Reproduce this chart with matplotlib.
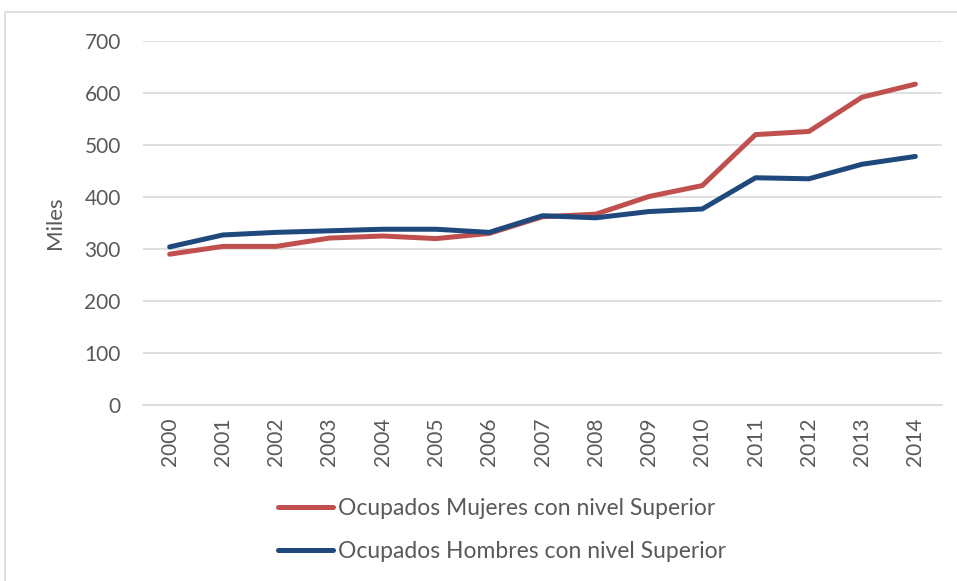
import matplotlib.pyplot as plt
from matplotlib.patches import Rectangle

years = ['2000', '2001', '2002', '2003', '2004', '2005', '2006', '2007',
         '2008', '2009', '2010', '2011', '2012', '2013', '2014']
mujeres = [290, 305, 305, 321, 325, 320, 330, 362, 367, 401, 422, 520, 526, 592, 617]
hombres = [304, 327, 332, 335, 338, 338, 332, 364, 360, 372, 377, 437, 435, 463, 478]
label_m = 'Ocupados Mujeres con nivel Superior'
label_h = 'Ocupados Hombres con nivel Superior'

plt.rcParams['font.family'] = ['Lato', 'DejaVu Sans']
txt = '#595959'

fig = plt.figure(figsize=(9.57, 5.81), dpi=100)
fig.patches.append(Rectangle((5 / 957, -0.1), 1.2, 1 - 12 / 581 + 0.1,
                             transform=fig.transFigure, fill=False,
                             edgecolor='#d9d9d9', lw=1.2))
ax = fig.add_axes([143 / 957, 1 - 405 / 581, (942 - 143) / 957, (405 - 41) / 581])

x = range(len(years))
ax.plot(x, mujeres, color='#c0504d', lw=3.6, solid_capstyle='round', label=label_m)
ax.plot(x, hombres, color='#1f497d', lw=3.6, solid_capstyle='round', label=label_h)

ax.set_xlim(-0.5, len(years) - 0.5)
ax.set_ylim(0, 700)
ax.set_yticks(range(0, 701, 100))
ax.set_xticks(list(x))
ax.set_xticklabels(years, rotation=90)
ax.grid(axis='y', color='#d9d9d9', lw=1.2)
ax.set_axisbelow(True)
for s in ['top', 'right', 'left']:
    ax.spines[s].set_visible(False)
ax.spines['bottom'].set_color('#d9d9d9')
ax.spines['bottom'].set_linewidth(1.2)
ax.tick_params(axis='y', length=0, labelsize=15, colors=txt, pad=16)
ax.tick_params(axis='x', length=0, labelsize=15, colors=txt, pad=9)
ax.set_ylabel('Miles', fontsize=16, color=txt, labelpad=14)

fig.legend(loc='center', bbox_to_anchor=(502 / 957, 1 - 530 / 581), frameon=False,
           fontsize=16.5, labelcolor=txt, handlelength=2.4, handletextpad=0.25,
           labelspacing=0.95)

plt.savefig('out.png', dpi=100)
